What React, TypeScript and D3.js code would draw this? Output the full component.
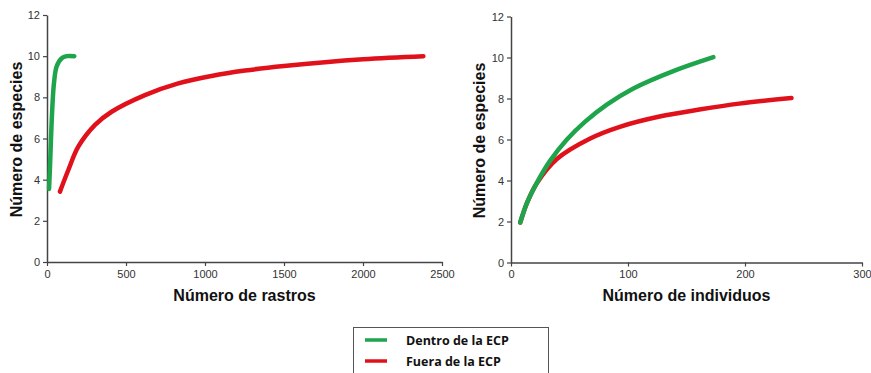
import React, { useEffect, useRef } from 'react';
import * as d3 from 'd3';

// Left panel: species vs. number of tracks (rastros)
const rastrosDentro: [number, number][] = [
  [13, 3.55], [19, 4.63], [25, 5.93], [34, 7.55], [44, 8.68], [61, 9.5], [93, 9.9], [124, 10.0], [173, 10.0],
];
const rastrosFuera: [number, number][] = [
  [82, 3.42], [135, 4.47], [198, 5.6], [304, 6.66], [409, 7.3], [620, 8.11], [831, 8.68],
  [1042, 9.04], [1253, 9.3], [1500, 9.52], [2000, 9.85], [2382, 10.0],
];

// Right panel: species vs. number of individuals
const individuosDentro: [number, number][] = [
  [7.9, 1.95], [13.6, 2.9], [22.2, 3.9], [33.5, 4.97], [47.8, 6.0], [63.4, 6.87],
  [81.9, 7.7], [104.6, 8.49], [138.7, 9.34], [173, 10.02],
];
const individuosFuera: [number, number][] = [
  [7.9, 1.95], [13.6, 2.9], [22.2, 3.88], [39.2, 5.05], [67.7, 6.05], [93, 6.62],
  [127, 7.12], [161, 7.46], [195, 7.75], [239.7, 8.02],
];

const yTicks = [0, 2, 4, 6, 8, 10, 12];
const rastrosTicks = [0, 500, 1000, 1500, 2000, 2500];
const individuosTicks = [0, 100, 200, 300];

const GREEN = '#1ea54b';
const RED = '#e1111b';

const legendItems = [
  { label: 'Dentro de la ECP', color: GREEN },
  { label: 'Fuera de la ECP', color: RED },
];

const FONT = "'Liberation Sans', Arial, sans-serif";

const App = () => {
  const svgRef = useRef<SVGSVGElement>(null);

  useEffect(() => {
    if (!svgRef.current) return;
    const svg = d3.select(svgRef.current);
    svg.selectAll('*').remove();

    const panels = [
      {
        left: 47, right: 442, top: 15, bottom: 262,
        xMax: 2500, xTicks: rastrosTicks, xTitle: 'Número de rastros', yTitleX: 17,
        series: [{ data: rastrosDentro, color: GREEN }, { data: rastrosFuera, color: RED }],
      },
      {
        left: 511, right: 862, top: 16.5, bottom: 262.5,
        xMax: 300, xTicks: individuosTicks, xTitle: 'Número de individuos', yTitleX: 480,
        series: [{ data: individuosFuera, color: RED }, { data: individuosDentro, color: GREEN }],
      },
    ];

    panels.forEach(p => {
      const x = d3.scaleLinear().domain([0, p.xMax]).range([p.left, p.right]);
      const y = d3.scaleLinear().domain([0, 12]).range([p.bottom, p.top]);

      const gx = svg.append('g')
        .attr('transform', `translate(0,${p.bottom})`)
        .call(d3.axisBottom(x).tickValues(p.xTicks).tickFormat(d3.format('d')).tickSize(4).tickSizeOuter(0).tickPadding(4));
      const gy = svg.append('g')
        .attr('transform', `translate(${p.left},0)`)
        .call(d3.axisLeft(y).tickValues(yTicks).tickFormat(d3.format('d')).tickSize(4).tickSizeOuter(0).tickPadding(3));

      [gx, gy].forEach(g => {
        g.select('.domain').attr('stroke', '#444').attr('stroke-width', 1.5);
        g.selectAll('.tick line').attr('stroke', '#444').attr('stroke-width', 1.2);
        g.selectAll('.tick text')
          .attr('fill', '#333')
          .attr('font-size', 11)
          .style('font-family', FONT);
      });

      const line = d3.line<[number, number]>()
        .x(d => x(d[0]))
        .y(d => y(d[1]))
        .curve(d3.curveCatmullRom.alpha(0.5));

      p.series.forEach(s => {
        svg.append('path')
          .datum(s.data)
          .attr('d', line)
          .attr('fill', 'none')
          .attr('stroke', s.color)
          .attr('stroke-width', 4.5)
          .attr('stroke-linecap', 'round');
      });

      svg.append('text')
        .attr('x', (p.left + p.right) / 2)
        .attr('y', 301)
        .attr('text-anchor', 'middle')
        .style('font-family', FONT)
        .attr('font-weight', 'bold')
        .attr('font-size', 16)
        .attr('fill', '#111')
        .text(p.xTitle);

      svg.append('text')
        .attr('transform', `translate(${p.yTitleX + 5},${(p.top + p.bottom) / 2 + 1}) rotate(-90)`)
        .attr('text-anchor', 'middle')
        .style('font-family', FONT)
        .attr('font-weight', 'bold')
        .attr('font-size', 16)
        .attr('fill', '#111')
        .text('Número de especies');
    });

    // Legend
    const lg = svg.append('g');
    lg.append('rect')
      .attr('x', 353.5).attr('y', 327.5)
      .attr('width', 195).attr('height', 60)
      .attr('fill', 'white').attr('stroke', '#555').attr('stroke-width', 1);
    legendItems.forEach((item, i) => {
      const cy = 340 + i * 21;
      lg.append('line')
        .attr('x1', 365).attr('x2', 387)
        .attr('y1', cy).attr('y2', cy)
        .attr('stroke', item.color).attr('stroke-width', 3.5);
      lg.append('text')
        .attr('x', 406).attr('y', cy + 4.5)
        .style('font-family', "'Open Sans', 'Liberation Sans', sans-serif")
        .attr('font-weight', 'bold')
        .attr('font-size', 12.5)
        .attr('fill', '#111')
        .text(item.label);
    });
  }, []);

  return (
    <svg
      ref={svgRef}
      width={871}
      height={373}
      style={{ position: 'absolute', left: 0, top: 0, background: 'white' }}
    />
  );
};

export default App;
